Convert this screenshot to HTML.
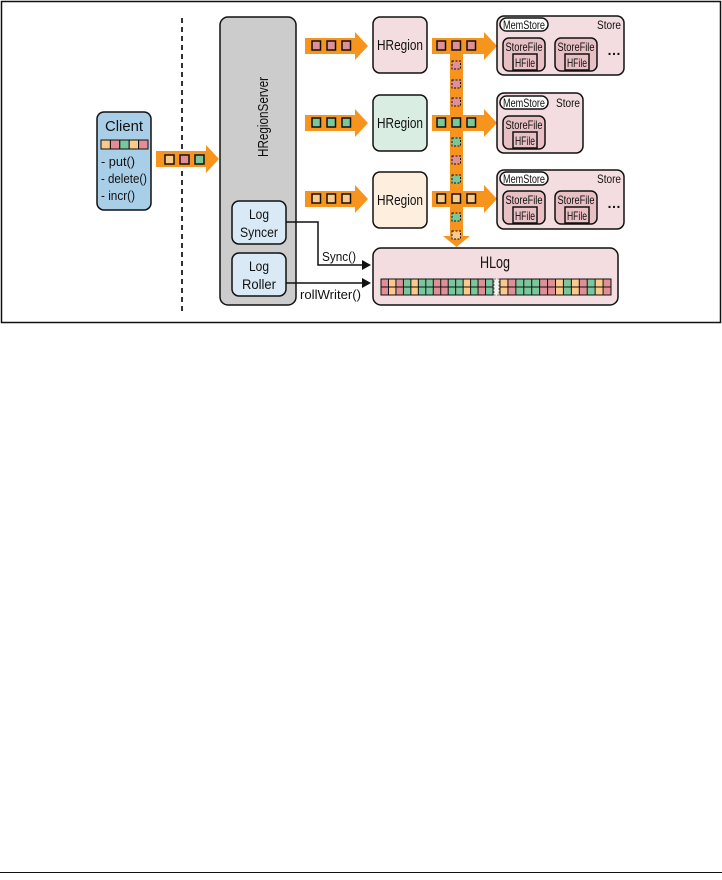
<!DOCTYPE html>
<html><head><meta charset="utf-8"><style>
html,body{margin:0;padding:0;background:#fff;width:722px;height:880px;overflow:hidden}
svg{display:block}
text{font-family:"Liberation Sans",sans-serif;fill:#111}
</style></head><body>
<svg width="722" height="880" viewBox="0 0 722 880" xmlns="http://www.w3.org/2000/svg">
<defs>
<g id="ar"><path d="M0,-8 H50 V-14 L63,0 L50,14 V8 H0 Z" fill="#f7941d"/></g>
</defs>
<rect x="1.5" y="1.5" width="719" height="321" fill="none" stroke="#111" stroke-width="1.5"/>
<line x1="0" y1="872.5" x2="722" y2="872.5" stroke="#111" stroke-width="1"/>
<line x1="182" y1="18" x2="182" y2="312" stroke="#333" stroke-width="2" stroke-dasharray="5,4"/>
<!-- Client -->
<rect x="97" y="112" width="54" height="98" rx="7" fill="#a9cfe8" stroke="#111" stroke-width="1.5"/>
<text x="124" y="131" font-size="15" text-anchor="middle" textLength="38" lengthAdjust="spacingAndGlyphs">Client</text>
<g stroke="#111" stroke-width="1">
<rect x="101" y="140" width="9.4" height="9" fill="#fcc98a"/><rect x="110.4" y="140" width="9.4" height="9" fill="#e08f96"/><rect x="119.8" y="140" width="9.4" height="9" fill="#79c79d"/><rect x="129.2" y="140" width="9.4" height="9" fill="#fcc98a"/><rect x="138.6" y="140" width="9.4" height="9" fill="#e08f96"/>
</g>
<text x="101" y="166" font-size="13" textLength="34" lengthAdjust="spacingAndGlyphs">- put()</text>
<text x="101" y="183" font-size="13" textLength="46" lengthAdjust="spacingAndGlyphs">- delete()</text>
<text x="101" y="200" font-size="13" textLength="34" lengthAdjust="spacingAndGlyphs">- incr()</text>
<use href="#ar" x="156" y="159"/>
<g stroke="#111" stroke-width="1.5"><rect x="165" y="155" width="9" height="9" fill="#fcc98a"/><rect x="180" y="155" width="9" height="9" fill="#e08f96"/><rect x="195" y="155" width="9" height="9" fill="#79c79d"/></g>
<!-- HRegionServer -->
<rect x="220" y="17" width="76" height="288" rx="8" fill="#cccccc" stroke="#111" stroke-width="1.5"/>
<text transform="translate(268,117) rotate(-90)" font-size="15" text-anchor="middle" textLength="80" lengthAdjust="spacingAndGlyphs">HRegionServer</text>
<rect x="232" y="201" width="54" height="43" rx="7" fill="#d9e9f5" stroke="#111" stroke-width="1.5"/>
<text x="259" y="219" font-size="14" text-anchor="middle" textLength="20" lengthAdjust="spacingAndGlyphs">Log</text><text x="259" y="237" font-size="14" text-anchor="middle" textLength="38" lengthAdjust="spacingAndGlyphs">Syncer</text>
<rect x="232" y="253" width="54" height="43" rx="7" fill="#d9e9f5" stroke="#111" stroke-width="1.5"/>
<text x="259" y="271" font-size="14" text-anchor="middle" textLength="20" lengthAdjust="spacingAndGlyphs">Log</text><text x="259" y="289" font-size="14" text-anchor="middle" textLength="34" lengthAdjust="spacingAndGlyphs">Roller</text>
<!-- sync arrows -->
<path d="M286,222 H318 V265 H362" fill="none" stroke="#111" stroke-width="1.5"/>
<path d="M362,260 L371,265 L362,270 Z" fill="#111"/>
<path d="M286,283 H362" fill="none" stroke="#111" stroke-width="1.5"/>
<path d="M362,278 L371,283 L362,288 Z" fill="#111"/>
<text x="322" y="261" font-size="13" textLength="34" lengthAdjust="spacingAndGlyphs">Sync()</text>
<text x="300" y="299" font-size="13" textLength="61" lengthAdjust="spacingAndGlyphs">rollWriter()</text>
<!-- arrows into HRegions -->
<use href="#ar" x="305" y="46"/><use href="#ar" x="305" y="123"/><use href="#ar" x="305" y="199"/>
<g stroke="#111" stroke-width="1.5">
<rect x="312" y="41" width="8.5" height="9" fill="#e08f96"/><rect x="327" y="41" width="8.5" height="9" fill="#e08f96"/><rect x="342" y="41" width="8.5" height="9" fill="#e08f96"/>
<rect x="312" y="118" width="8.5" height="9" fill="#79c79d"/><rect x="327" y="118" width="8.5" height="9" fill="#79c79d"/><rect x="342" y="118" width="8.5" height="9" fill="#79c79d"/>
<rect x="312" y="194" width="8.5" height="9" fill="#fcc98a"/><rect x="327" y="194" width="8.5" height="9" fill="#fcc98a"/><rect x="342" y="194" width="8.5" height="9" fill="#fcc98a"/>
</g>
<!-- HRegions -->
<rect x="373" y="17" width="54" height="56" rx="7" fill="#f3dde0" stroke="#111" stroke-width="1.5"/>
<text x="400" y="50" font-size="15" text-anchor="middle" textLength="46" lengthAdjust="spacingAndGlyphs">HRegion</text>
<rect x="373" y="95" width="54" height="56" rx="7" fill="#d9ede3" stroke="#111" stroke-width="1.5"/>
<text x="400" y="128" font-size="15" text-anchor="middle" textLength="46" lengthAdjust="spacingAndGlyphs">HRegion</text>
<rect x="373" y="172" width="54" height="56" rx="7" fill="#fdeedd" stroke="#111" stroke-width="1.5"/>
<text x="400" y="205" font-size="15" text-anchor="middle" textLength="46" lengthAdjust="spacingAndGlyphs">HRegion</text>
<!-- vertical bar and right arrows -->
<rect x="450" y="40" width="13" height="197" fill="#f7941d"/>
<path d="M443,236 H470 L456.5,247 Z" fill="#f7941d"/>
<g transform="translate(432,0)"><path d="M0,38 H52 V32 L65,46 L52,60 V54 H0 Z" fill="#f7941d"/><path d="M0,115 H52 V109 L65,123 L52,137 V131 H0 Z" fill="#f7941d"/><path d="M0,191 H52 V185 L65,199 L52,213 V207 H0 Z" fill="#f7941d"/></g>
<g stroke="#111" stroke-width="1.5">
<rect x="437" y="41" width="8.5" height="9" fill="#e08f96"/><rect x="452" y="41" width="8.5" height="9" fill="#e08f96"/><rect x="467" y="41" width="8.5" height="9" fill="#e08f96"/>
<rect x="437" y="118" width="8.5" height="9" fill="#79c79d"/><rect x="452" y="118" width="8.5" height="9" fill="#79c79d"/><rect x="467" y="118" width="8.5" height="9" fill="#79c79d"/>
<rect x="437" y="194" width="8.5" height="9" fill="#fcc98a"/><rect x="452" y="194" width="8.5" height="9" fill="#fcc98a"/><rect x="467" y="194" width="8.5" height="9" fill="#fcc98a"/>
</g>
<g stroke="#111" stroke-width="1" stroke-dasharray="2,1.5">
<rect x="452" y="61" width="8.5" height="8" fill="#e08f96"/><rect x="452" y="80" width="8.5" height="8" fill="#e08f96"/><rect x="452" y="98" width="8.5" height="8" fill="#e08f96"/>
<rect x="452" y="138" width="8.5" height="8" fill="#79c79d"/><rect x="452" y="156" width="8.5" height="8" fill="#e08f96"/><rect x="452" y="175" width="8.5" height="8" fill="#79c79d"/>
<rect x="452" y="213" width="8.5" height="8" fill="#79c79d"/><rect x="452" y="231" width="8.5" height="8" fill="#fcc98a"/>
</g>
<!-- Stores -->
<g stroke="#111" stroke-width="1.5">
<rect x="497" y="16" width="127" height="59" rx="7" fill="#f3dde0"/>
<rect x="500" y="18" width="48" height="13" rx="6.5" fill="#fff"/>
<rect x="503" y="38" width="42" height="33" rx="6" fill="#e8bfc3"/>
<rect x="513" y="54" width="24" height="16" fill="#e8bfc3"/>
<rect x="555" y="38" width="42" height="33" rx="6" fill="#e8bfc3"/>
<rect x="565" y="54" width="24" height="16" fill="#e8bfc3"/>

<rect x="497" y="93" width="86" height="60" rx="7" fill="#f3dde0"/>
<rect x="500" y="96" width="48" height="13" rx="6.5" fill="#fff"/>
<rect x="503" y="116" width="42" height="33" rx="6" fill="#e8bfc3"/>
<rect x="513" y="132" width="24" height="16" fill="#e8bfc3"/>

<rect x="497" y="170" width="127" height="59" rx="7" fill="#f3dde0"/>
<rect x="500" y="172" width="48" height="13" rx="6.5" fill="#fff"/>
<rect x="503" y="191" width="42" height="33" rx="6" fill="#e8bfc3"/>
<rect x="513" y="207" width="24" height="16" fill="#e8bfc3"/>
<rect x="555" y="191" width="42" height="33" rx="6" fill="#e8bfc3"/>
<rect x="565" y="207" width="24" height="16" fill="#e8bfc3"/>
</g>
<g font-size="12">
<text x="524" y="29" text-anchor="middle" textLength="42" lengthAdjust="spacingAndGlyphs">MemStore</text><text x="621" y="29" text-anchor="end" textLength="24" lengthAdjust="spacingAndGlyphs">Store</text>
<text x="524" y="51" text-anchor="middle" textLength="37" lengthAdjust="spacingAndGlyphs">StoreFile</text><text x="525" y="67" text-anchor="middle" textLength="20" lengthAdjust="spacingAndGlyphs">HFile</text>
<text x="576" y="51" text-anchor="middle" textLength="37" lengthAdjust="spacingAndGlyphs">StoreFile</text><text x="577" y="67" text-anchor="middle" textLength="20" lengthAdjust="spacingAndGlyphs">HFile</text>
<text x="607" y="55" font-size="14" font-weight="bold">…</text>
<text x="524" y="107" text-anchor="middle" textLength="42" lengthAdjust="spacingAndGlyphs">MemStore</text><text x="580" y="107" text-anchor="end" textLength="24" lengthAdjust="spacingAndGlyphs">Store</text>
<text x="524" y="129" text-anchor="middle" textLength="37" lengthAdjust="spacingAndGlyphs">StoreFile</text><text x="525" y="145" text-anchor="middle" textLength="20" lengthAdjust="spacingAndGlyphs">HFile</text>
<text x="524" y="183" text-anchor="middle" textLength="42" lengthAdjust="spacingAndGlyphs">MemStore</text><text x="621" y="183" text-anchor="end" textLength="24" lengthAdjust="spacingAndGlyphs">Store</text>
<text x="524" y="204" text-anchor="middle" textLength="37" lengthAdjust="spacingAndGlyphs">StoreFile</text><text x="525" y="220" text-anchor="middle" textLength="20" lengthAdjust="spacingAndGlyphs">HFile</text>
<text x="576" y="204" text-anchor="middle" textLength="37" lengthAdjust="spacingAndGlyphs">StoreFile</text><text x="577" y="220" text-anchor="middle" textLength="20" lengthAdjust="spacingAndGlyphs">HFile</text>
<text x="607" y="208" font-size="14" font-weight="bold">…</text>
</g>
<!-- HLog -->
<rect x="373" y="248" width="245" height="57" rx="8" fill="#f3dde0" stroke="#111" stroke-width="1.5"/>
<text x="495" y="268" font-size="17" text-anchor="middle" textLength="30" lengthAdjust="spacingAndGlyphs">HLog</text>
<g stroke="#111" stroke-width="1">
<rect x="381" y="279" width="112" height="16" fill="#111"/>
<rect x="500" y="279" width="111" height="16" fill="#111"/>
</g>
<g id="cells"></g>
<script>
(function(){
var C={P:"#e08f96",O:"#fcc98a",G:"#79c79d"};
var L="POPGOGGPPGGOGPG".split(""),R="OPGGGPPOGOPGOP".split("");
var g=document.getElementById("cells"),ns="http://www.w3.org/2000/svg";
function row(arr,x0,w){arr.forEach(function(c,i){[279,287].forEach(function(y){var r=document.createElementNS(ns,"rect");r.setAttribute("x",x0+i*w+0.5);r.setAttribute("y",y+0.5);r.setAttribute("width",w-1);r.setAttribute("height",7);r.setAttribute("fill",C[c]);g.appendChild(r);});});}
row(L,381,112/15);row(R,500,111/14);
})();
</script>
<rect x="494" y="279" width="5" height="16" fill="#f7f0f0" stroke="#777" stroke-width="1" stroke-dasharray="2,1.5"/>
</svg>
</body></html>
